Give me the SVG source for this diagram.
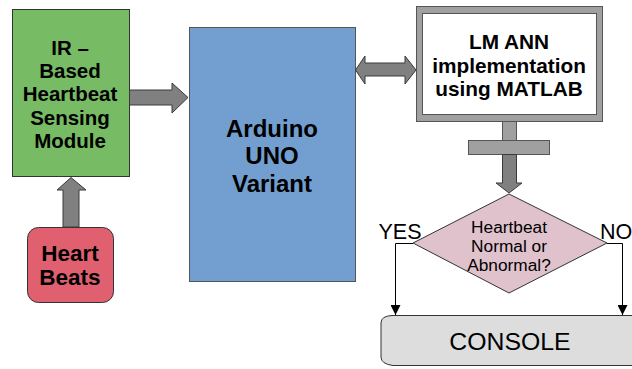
<svg xmlns="http://www.w3.org/2000/svg" width="632" height="369" viewBox="0 0 632 369">
<defs>
<style>
.bold{font-family:"Liberation Sans",Arial,sans-serif;font-weight:bold;fill:#000;text-anchor:middle}
.reg{font-family:"Liberation Sans",Arial,sans-serif;fill:#000;text-anchor:middle}
.arr{fill:#808080;stroke:#3a3a3a;stroke-width:1}
.line{fill:none;stroke:#000;stroke-width:1}
</style>
<marker id="tri" viewBox="0 0 10 10" refX="10" refY="5" markerWidth="10" markerHeight="10" markerUnits="userSpaceOnUse" orient="auto">
<path d="M0,0 L10,5 L0,10 Z" fill="#000"/>
</marker>
</defs>
<rect width="632" height="369" fill="#fff"/>

<g id="sensor">
<rect x="12.5" y="9.5" width="117" height="167" fill="#77bc65" stroke="#333" stroke-width="1"/>
<text class="bold" font-size="20.5" x="70" y="54.5">IR –</text>
<text class="bold" font-size="20.5" x="70" y="77.5">Based</text>
<text class="bold" font-size="20.5" x="70" y="100.5">Heartbeat</text>
<text class="bold" font-size="20.5" x="70" y="124.5">Sensing</text>
<text class="bold" font-size="20.5" x="70" y="147.5">Module</text>
</g>

<g id="heart">
<rect x="27.5" y="227.5" width="86" height="75" rx="11" fill="#e06070" stroke="#333" stroke-width="1"/>
<text class="bold" font-size="22.5" x="70" y="261">Heart</text>
<text class="bold" font-size="22.5" x="70" y="285">Beats</text>
</g>

<g id="arduino">
<rect x="189.5" y="27.5" width="166" height="254" fill="#729fcf" stroke="#555" stroke-width="1"/>
<text class="bold" font-size="24" x="272" y="136.5">Arduino</text>
<text class="bold" font-size="24" x="272" y="163.5">UNO</text>
<text class="bold" font-size="24" x="272" y="191.5">Variant</text>
</g>

<g id="matlab">
<rect x="416.5" y="6.5" width="186" height="115" fill="#a0a0a0" stroke="#555" stroke-width="1"/>
<rect x="422.5" y="13.5" width="174" height="101" fill="#fff" stroke="#555" stroke-width="1"/>
<rect x="502.5" y="121.5" width="14" height="19" fill="#a0a0a0" stroke="#555" stroke-width="1"/>
<rect x="468.5" y="140.5" width="81" height="14" fill="#a0a0a0" stroke="#555" stroke-width="1"/>
<text class="bold" font-size="20.8" x="509" y="48.5">LM ANN</text>
<text class="bold" font-size="20.8" x="509" y="72.5">implementation</text>
<text class="bold" font-size="20.8" x="509" y="95.5">using MATLAB</text>
</g>

<g id="decision">
<path d="M509,194 L607,243 L509,293 L413,243 Z" fill="#e0c2cd" stroke="#333" stroke-width="1"/>
<text class="reg" font-size="17.3" x="509" y="233" fill="#333">Heartbeat</text>
<text class="reg" font-size="17.3" x="509" y="252" fill="#333">Normal or</text>
<text class="reg" font-size="17.3" x="509" y="270.5" fill="#333">Abnormal?</text>
</g>

<g id="console">
<path d="M392,315.5 L640,315.5 L640,365.5 L393,365.5 Q381,364 381,357 L381,323 Q381,316 392,315.5 Z" fill="#dddddd" stroke="#333" stroke-width="1"/>
<text class="reg" font-size="24.8" x="510" y="349.5">CONSOLE</text>
</g>

<g id="labels">
<text class="reg" font-size="21.5" x="400" y="239">YES</text>
<text class="reg" font-size="21.5" x="600" y="239" style="text-anchor:start">NO</text>
</g>

<g id="connectors">
<path class="arr" d="M129.5,90 L172,90 L172,83 L188,97.5 L172,113 L172,105 L129.5,105 Z"/>
<path class="arr" d="M63,227 L63,190 L57,190 L71,177.5 L86,190 L79,190 L79,227 Z"/>
<path class="arr" d="M355.5,70 L365,56 L365,63 L405,63 L405,56 L416,70 L405,84 L405,76 L365,76 L365,84 Z"/>
<path class="arr" d="M502.5,154.5 L516.5,154.5 L516.5,183 L522,183 L509,193 L496,183 L502.5,183 Z"/>
<polyline class="line" points="413,243.5 395.5,243.5 395.5,315" marker-end="url(#tri)"/>
<polyline class="line" points="607,243.5 622.5,243.5 622.5,315" marker-end="url(#tri)"/>
</g>
</svg>
